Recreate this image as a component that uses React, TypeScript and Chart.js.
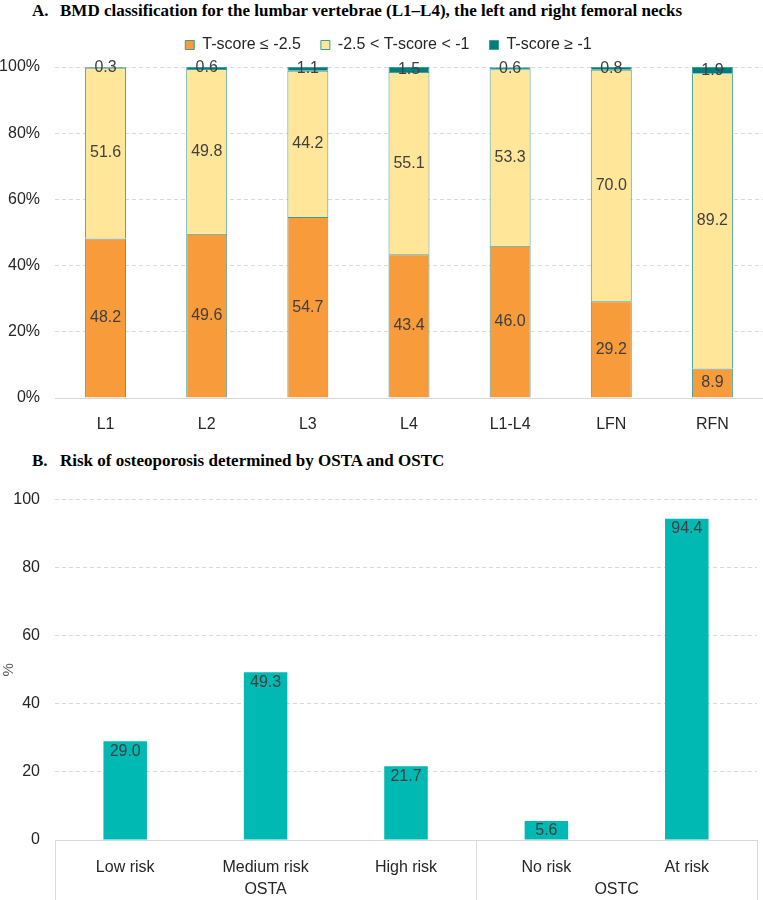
import React, { useEffect, useRef } from 'react';
import { Chart, registerables } from 'chart.js';

Chart.register(...registerables);

// ---------- Data: panel A ----------
const bmdCategories = ['L1', 'L2', 'L3', 'L4', 'L1-L4', 'LFN', 'RFN'];
const bmdLegend = ['T-score ≤ -2.5', '-2.5 < T-score < -1', 'T-score ≥ -1'];
const osteoporosis = [48.2, 49.6, 54.7, 43.4, 46.0, 29.2, 8.9];
const osteopenia = [51.6, 49.8, 44.2, 55.1, 53.3, 70.0, 89.2];
const normalBmd = [0.3, 0.6, 1.1, 1.5, 0.6, 0.8, 1.9];
const percentTicks = [0, 20, 40, 60, 80, 100];

// ---------- Data: panel B ----------
const riskCategories = ['Low risk', 'Medium risk', 'High risk', 'No risk', 'At risk'];
const riskGroups = ['OSTA', 'OSTA', 'OSTA', 'OSTC', 'OSTC'];
const riskValues = [29.0, 49.3, 21.7, 5.6, 94.4];
const riskTicks = [0, 20, 40, 60, 80, 100];

const titleA = 'BMD classification for the lumbar vertebrae (L1–L4), the left and right femoral necks';
const titleB = 'Risk of osteoporosis determined by OSTA and OSTC';

const FONT = '"Liberation Sans", Arial, sans-serif';
const SERIF = '"Liberation Serif", "Times New Roman", serif';
const ORANGE = '#F89B3A';
const YELLOW = '#FFE699';
const DARKTEAL = '#007E7C';
const EDGE = '#3A9E9B';
const CYAN = '#00B9B2';
const GRID = '#D9D9D9';
const TICK = '#262626';
const LABEL = '#404040';

function valueLabels(mode: 'center' | 'end') {
  return {
    id: 'valueLabels',
    afterDatasetsDraw(chart: any) {
      const ctx = chart.ctx;
      ctx.save();
      ctx.font = `16px ${FONT}`;
      ctx.fillStyle = LABEL;
      ctx.textAlign = 'center';
      ctx.textBaseline = 'middle';
      chart.data.datasets.forEach((ds: any, di: number) => {
        const meta = chart.getDatasetMeta(di);
        meta.data.forEach((el: any, i: number) => {
          const v = ds.data[i] as number;
          const p = el.getProps(['x', 'y', 'base'], true);
          const ty = mode === 'center' ? (p.y + p.base) / 2 : p.y + 10;
          ctx.fillText(v.toFixed(1), p.x, ty);
        });
      });
      ctx.restore();
    },
  };
}

function legendTweak(height: number, dx: number, dy: number) {
  return {
    id: 'legendTweak',
    beforeLayout(chart: any) {
      const lg = chart.legend;
      if (lg && !lg.__patched) {
        const f = lg.fit.bind(lg);
        lg.fit = () => {
          f();
          lg.height = height;
        };
        lg.__patched = true;
      }
    },
    afterLayout(chart: any) {
      const lg = chart.legend;
      if (lg) {
        lg.left += dx;
        lg.right += dx;
        lg.top += dy;
        lg.bottom += dy;
      }
    },
  };
}

const groupAxis = {
  id: 'groupAxis',
  afterDraw(chart: any) {
    const xs = chart.scales.x;
    const area = chart.chartArea;
    const ctx = chart.ctx;
    const half = (xs.getPixelForValue(1) - xs.getPixelForValue(0)) / 2;
    const bounds: number[] = [area.left];
    const groups: { name: string; start: number; end: number }[] = [];
    riskGroups.forEach((g, i) => {
      if (i === 0 || riskGroups[i - 1] !== g) {
        if (i > 0) bounds.push(xs.getPixelForValue(i) - half);
        groups.push({ name: g, start: i, end: i });
      } else {
        groups[groups.length - 1].end = i;
      }
    });
    bounds.push(area.right);
    ctx.save();
    ctx.strokeStyle = GRID;
    ctx.lineWidth = 1;
    bounds.forEach((bx) => {
      const x = Math.round(bx) + 0.5;
      ctx.beginPath();
      ctx.moveTo(x, area.bottom);
      ctx.lineTo(x, chart.height);
      ctx.stroke();
    });
    ctx.font = `16px ${FONT}`;
    ctx.fillStyle = TICK;
    ctx.textAlign = 'center';
    ctx.textBaseline = 'middle';
    groups.forEach((g) => {
      const x0 = xs.getPixelForValue(g.start) - half;
      const x1 = xs.getPixelForValue(g.end) + half;
      ctx.fillText(g.name, (x0 + x1) / 2, area.bottom + 50);
    });
    ctx.restore();
  },
};

function BmdChart() {
  const ref = useRef<HTMLCanvasElement>(null);
  useEffect(() => {
    const font = { size: 16, family: FONT };
    const chart = new Chart(ref.current as HTMLCanvasElement, {
      type: 'bar',
      data: {
        labels: bmdCategories,
        datasets: [
          { label: bmdLegend[0], data: osteoporosis, backgroundColor: ORANGE, borderColor: EDGE, borderWidth: 1 },
          { label: bmdLegend[1], data: osteopenia, backgroundColor: YELLOW, borderColor: EDGE, borderWidth: 1 },
          { label: bmdLegend[2], data: normalBmd, backgroundColor: DARKTEAL, borderColor: EDGE, borderWidth: 1 },
        ],
      },
      options: {
        responsive: false,
        animation: false,
        layout: { padding: 0 },
        datasets: { bar: { categoryPercentage: 1, barPercentage: 0.405 } } as any,
        plugins: {
          legend: {
            position: 'top',
            align: 'center',
            labels: { boxWidth: 9, boxHeight: 9, padding: 20, color: TICK, font },
          },
          tooltip: { enabled: false },
        },
        scales: {
          x: {
            stacked: true,
            grid: { display: false },
            border: { display: true, color: GRID, width: 1 },
            ticks: { padding: 9, color: TICK, font },
            afterFit: (s: any) => {
              s.height = 42;
            },
          },
          y: {
            stacked: true,
            min: 0,
            max: 100,
            afterBuildTicks: (s: any) => {
              s.ticks = percentTicks.map((value) => ({ value }));
            },
            ticks: { padding: 15, color: TICK, font, callback: (v: any) => `${v}%` },
            grid: {
              drawTicks: false,
              color: (c: any) => (c.tick && c.tick.value === 0 ? 'rgba(0,0,0,0)' : GRID),
            },
            border: { display: false, dash: [4, 3] },
            afterFit: (s: any) => {
              s.width = 55;
            },
          },
        },
      } as any,
      plugins: [valueLabels('center'), legendTweak(40, 7, -10)],
    });
    return () => chart.destroy();
  }, []);
  return <canvas ref={ref} width={763} height={413} style={{ position: 'absolute', left: 0, top: 27, display: 'block' }} />;
}

function RiskChart() {
  const ref = useRef<HTMLCanvasElement>(null);
  useEffect(() => {
    const font = { size: 16, family: FONT };
    const chart = new Chart(ref.current as HTMLCanvasElement, {
      type: 'bar',
      data: {
        labels: riskCategories,
        datasets: [{ label: '%', data: riskValues, backgroundColor: CYAN, borderWidth: 0 }],
      },
      options: {
        responsive: false,
        animation: false,
        layout: { padding: { top: 13, right: 6, bottom: 0, left: 0 } },
        datasets: { bar: { categoryPercentage: 1, barPercentage: 0.31 } } as any,
        plugins: { legend: { display: false }, tooltip: { enabled: false } },
        scales: {
          x: {
            grid: { display: false },
            border: { display: true, color: GRID, width: 1 },
            ticks: { padding: 10, color: TICK, font },
            afterFit: (s: any) => {
              s.height = 60;
            },
          },
          y: {
            min: 0,
            max: 100,
            afterBuildTicks: (s: any) => {
              s.ticks = riskTicks.map((value) => ({ value }));
            },
            ticks: { padding: 15, color: TICK, font },
            title: { display: true, text: '%', color: '#595959', font: { size: 15, family: FONT }, padding: 0 },
            grid: {
              drawTicks: false,
              color: (c: any) => (c.tick && c.tick.value === 0 ? 'rgba(0,0,0,0)' : GRID),
            },
            border: { display: false, dash: [4, 3] },
            afterFit: (s: any) => {
              s.width = 55;
            },
          },
        },
      } as any,
      plugins: [valueLabels('end'), groupAxis],
    });
    return () => chart.destroy();
  }, []);
  return <canvas ref={ref} width={763} height={425} style={{ position: 'absolute', left: 0, top: 475, display: 'block' }} />;
}

const titleStyle: React.CSSProperties = {
  position: 'absolute',
  left: 32,
  fontFamily: SERIF,
  fontWeight: 'bold',
  fontSize: 17,
  lineHeight: '20px',
  whiteSpace: 'nowrap',
  color: '#000',
};

export default function App() {
  return (
    <div style={{ position: 'absolute', left: 0, top: 0, width: 763, height: 900, background: '#fff', overflow: 'hidden' }}>
      <div style={{ ...titleStyle, top: 1 }}>
        <span style={{ display: 'inline-block', width: 28 }}>A.</span>
        <span>{titleA}</span>
      </div>
      <BmdChart />
      <div style={{ ...titleStyle, top: 451 }}>
        <span style={{ display: 'inline-block', width: 28 }}>B.</span>
        <span>{titleB}</span>
      </div>
      <RiskChart />
    </div>
  );
}
